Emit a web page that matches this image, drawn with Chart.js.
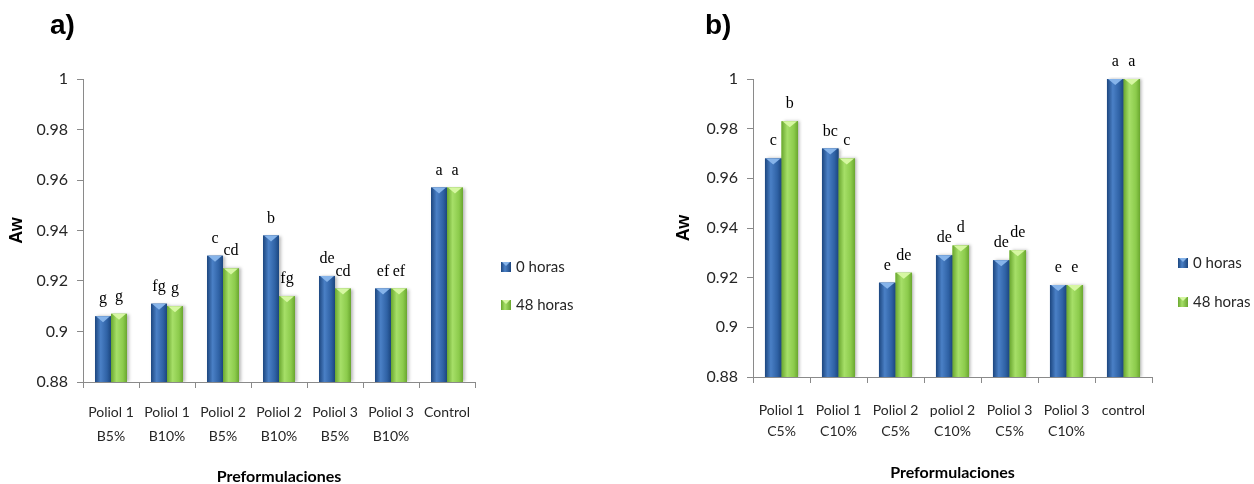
<!DOCTYPE html>
<html>
<head>
<meta charset="utf-8">
<script src="https://cdn.jsdelivr.net/npm/chart.js@4"></script>
<style>
  html, body { margin: 0; padding: 0; background: #ffffff; }
  #wrap { position: relative; width: 1254px; height: 484px; overflow: hidden; background: #ffffff; }
  #wrap canvas { position: absolute; top: 0; }
</style>
</head>
<body>
<div id="wrap">
  <canvas id="panelB" width="627" height="484" style="left:0px"></canvas>
  <canvas id="panelC" width="627" height="484" style="left:627px"></canvas>
</div>
<script>
// Water activity (Aw) of the preformulations at 0 and 48 hours
const yTickValues = [0.88, 0.9, 0.92, 0.94, 0.96, 0.98, 1];
const seriesNames = ['0 horas', '48 horas'];

// Panel a) — B formulations
const categoriesB = [['Poliol 1', 'B5%'], ['Poliol 1', 'B10%'], ['Poliol 2', 'B5%'], ['Poliol 2', 'B10%'],
                     ['Poliol 3', 'B5%'], ['Poliol 3', 'B10%'], 'Control'];
const aw0B  = [0.906, 0.911, 0.930, 0.938, 0.922, 0.917, 0.957];
const aw48B = [0.907, 0.910, 0.925, 0.914, 0.917, 0.917, 0.957];
const groups0B  = ['g', 'fg', 'c', 'b', 'de', 'ef', 'a'];
const groups48B = ['g', 'g', 'cd', 'fg', 'cd', 'ef', 'a'];

// Panel b) — C formulations
const categoriesC = [['Poliol 1', 'C5%'], ['Poliol 1', 'C10%'], ['Poliol 2', 'C5%'], ['poliol 2', 'C10%'],
                     ['Poliol 3', 'C5%'], ['Poliol 3', 'C10%'], 'control'];
const aw0C  = [0.968, 0.972, 0.918, 0.929, 0.927, 0.917, 1.000];
const aw48C = [0.983, 0.968, 0.922, 0.933, 0.931, 0.917, 1.000];
const groups0C  = ['c', 'bc', 'e', 'de', 'de', 'e', 'a'];
const groups48C = ['b', 'c', 'de', 'd', 'de', 'e', 'a'];

const SANS = "Lato, 'DejaVu Sans Condensed', sans-serif";
const AXIS = '#8a8a8a';
const TEXT = '#262626';
const BLUE  = { dark: '#1c467f', mid: '#2f62a5', light: '#4a80c6', bevel: '#86b4ea' };
const GREEN = { dark: '#6aa72f', mid: '#8ccb4c', light: '#a6df68', bevel: '#d6f7a2' };

// Gives each bar a cylinder-like shading with a bevelled top, then writes the group letters
const barShading = {
  id: 'barShading',
  afterDatasetsDraw(chart) {
    const ctx = chart.ctx;
    const area = chart.chartArea;
    ctx.save();
    ctx.beginPath();
    ctx.rect(area.left, area.top - 2, area.right - area.left + 6, area.bottom - area.top + 2);
    ctx.clip();
    chart.data.datasets.forEach((ds, di) => {
      const meta = chart.getDatasetMeta(di);
      const pal = ds.shade;
      meta.data.forEach((bar) => {
        const { x, y, width } = bar.getProps(['x', 'y', 'width'], true);
        const l = x - width / 2, r = x + width / 2, h = area.bottom - y;
        const g = ctx.createLinearGradient(l, 0, r, 0);
        g.addColorStop(0, pal.dark);
        g.addColorStop(0.35, pal.light);
        g.addColorStop(0.75, pal.mid);
        g.addColorStop(1, pal.dark);
        ctx.save();
        ctx.shadowColor = 'rgba(0,0,0,0.28)';
        ctx.shadowOffsetX = 2;
        ctx.shadowOffsetY = 0;
        ctx.shadowBlur = 3;
        ctx.fillStyle = g;
        ctx.fillRect(l, y, width, h);
        ctx.restore();
        ctx.fillStyle = pal.bevel;
        ctx.beginPath();
        ctx.moveTo(l + 1, y);
        ctx.lineTo(r - 1, y);
        ctx.lineTo(x, y + Math.min(6, h));
        ctx.closePath();
        ctx.fill();
      });
    });
    ctx.restore();
    ctx.save();
    ctx.font = "16px 'Liberation Serif', 'Times New Roman', serif";
    ctx.fillStyle = '#000000';
    ctx.textAlign = 'center';
    ctx.textBaseline = 'alphabetic';
    chart.data.datasets.forEach((ds, di) => {
      const meta = chart.getDatasetMeta(di);
      meta.data.forEach((bar, i) => {
        ctx.fillText(ds.groups[i], bar.x, bar.y - 13);
      });
    });
    ctx.restore();
  }
};

// Legend on the right of each panel
const panelLegend = {
  id: 'panelLegend',
  afterDraw(chart, args, o) {
    const ctx = chart.ctx;
    ctx.save();
    ctx.font = '15px ' + SANS;
    ctx.textBaseline = 'middle';
    ctx.textAlign = 'left';
    chart.data.datasets.forEach((ds, i) => {
      const pal = ds.shade;
      const cy = o.y + i * o.gap;
      const bx = o.x, by = cy - 5, s = 10;
      const g = ctx.createLinearGradient(bx, 0, bx + s, 0);
      g.addColorStop(0, pal.dark);
      g.addColorStop(0.4, pal.light);
      g.addColorStop(1, pal.dark);
      ctx.fillStyle = g;
      ctx.fillRect(bx, by, s, s);
      ctx.fillStyle = pal.bevel;
      ctx.beginPath();
      ctx.moveTo(bx + 1, by);
      ctx.lineTo(bx + s - 1, by);
      ctx.lineTo(bx + s / 2, by + 4);
      ctx.closePath();
      ctx.fill();
      ctx.fillStyle = TEXT;
      ctx.fillText(ds.label, bx + o.textGap, cy);
    });
    ctx.restore();
  }
};

// Panel letter in the top-left corner
const panelTag = {
  id: 'panelTag',
  afterDraw(chart, args, o) {
    const ctx = chart.ctx;
    ctx.save();
    ctx.font = "bold 28px 'Liberation Sans', Arial, sans-serif";
    ctx.fillStyle = '#000000';
    ctx.textBaseline = 'middle';
    ctx.textAlign = 'left';
    ctx.fillText(o.text, o.x, o.y);
    ctx.restore();
  }
};

function makePanel(canvasId, cfg) {
  return new Chart(document.getElementById(canvasId), {
    type: 'bar',
    data: {
      labels: cfg.categories,
      datasets: [
        { label: seriesNames[0], data: cfg.values0, backgroundColor: BLUE.mid, shade: BLUE, groups: cfg.groups0 },
        { label: seriesNames[1], data: cfg.values48, backgroundColor: GREEN.mid, shade: GREEN, groups: cfg.groups48 }
      ]
    },
    options: {
      responsive: false,
      animation: false,
      devicePixelRatio: 1,
      layout: { padding: { left: cfg.padLeft, right: cfg.padRight, top: 79, bottom: cfg.padBottom } },
      datasets: { bar: { categoryPercentage: cfg.catPct, barPercentage: 1 } },
      plugins: {
        legend: { display: false },
        tooltip: { enabled: false },
        panelLegend: cfg.legend,
        panelTag: cfg.tag
      },
      scales: {
        x: {
          grid: { offset: true, drawOnChartArea: false, drawTicks: true, tickLength: 6, color: AXIS },
          border: { display: true, color: AXIS, width: 1 },
          ticks: {
            color: TEXT, autoSkip: false, maxRotation: 0, padding: cfg.catPad,
            font: { family: SANS, size: 14, lineHeight: cfg.catLine }
          },
          title: {
            display: true, text: 'Preformulaciones', color: '#000000',
            font: { family: SANS, size: 16, weight: 'bold', lineHeight: '14px' },
            padding: { top: 0, bottom: 0 }
          },
          afterFit: (s) => { s.height = cfg.xHeight; }
        },
        y: {
          min: yTickValues[0],
          max: yTickValues[yTickValues.length - 1],
          afterBuildTicks: (s) => { s.ticks = yTickValues.map((v) => ({ value: v })); },
          grid: { drawOnChartArea: false, drawTicks: true, tickLength: 6, color: AXIS },
          border: { display: true, color: AXIS, width: 1 },
          ticks: {
            color: TEXT, padding: 9,
            font: { family: SANS, size: 16 },
            callback: (v) => String(Number(Number(v).toFixed(2)))
          },
          title: {
            display: true, text: 'Aw', color: '#000000',
            font: { family: "'Liberation Sans', Arial, sans-serif", size: 18, weight: 'bold' },
            padding: { top: 6, bottom: 0 }
          },
          afterFit: (s) => { s.width = cfg.yWidth; }
        }
      }
    },
    plugins: [barShading, panelLegend, panelTag]
  });
}

makePanel('panelB', {
  categories: categoriesB, values0: aw0B, values48: aw48B, groups0: groups0B, groups48: groups48B,
  padLeft: 0, yWidth: 83, padRight: 152, padBottom: 0, xHeight: 102,
  catPct: 0.57, catPad: 13, catLine: 1.7,
  legend: { x: 501, y: 267, gap: 38, textGap: 15 },
  tag: { text: 'a)', x: 50, y: 26 }
});

makePanel('panelC', {
  categories: categoriesC, values0: aw0C, values48: aw48C, groups0: groups0C, groups48: groups48C,
  padLeft: 40, yWidth: 86, padRight: 102, padBottom: 4, xHeight: 103,
  catPct: 0.58, catPad: 16, catLine: 1.57,
  legend: { x: 551, y: 263, gap: 39, textGap: 15 },
  tag: { text: 'b)', x: 78, y: 26 }
});
</script>
</body>
</html>
